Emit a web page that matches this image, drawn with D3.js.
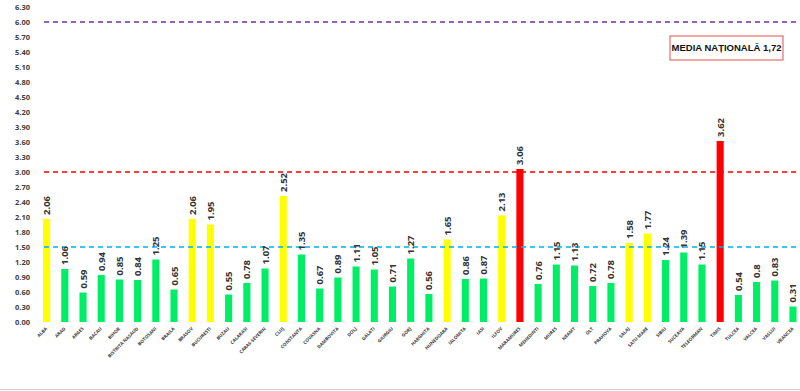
<!DOCTYPE html>
<html><head><meta charset="utf-8">
<script src="https://cdn.jsdelivr.net/npm/d3@7"></script>
<style>body{margin:0;background:#fff}svg{display:block}</style>
</head><body><svg id="c" width="800" height="391"></svg>
<script>
const counties = ["ALBA","ARAD","ARGES","BACAU","BIHOR","BISTRITA NASAUD","BOTOSANI","BRAILA","BRASOV","BUCURESTI","BUZAU","CALARASI","CARAS-SEVERIN","CLUJ","CONSTANTA","COVASNA","DAMBOVITA","DOLJ","GALATI","GIURGIU","GORJ","HARGHITA","HUNEDOARA","IALOMITA","IASI","ILFOV","MARAMURES","MEHEDINTI","MURES","NEAMT","OLT","PRAHOVA","SALAJ","SATU MARE","SIBIU","SUCEAVA","TELEORMAN","TIMIS","TULCEA","VALCEA","VASLUI","VRANCEA"];
const values = [2.06,1.06,0.59,0.94,0.85,0.84,1.25,0.65,2.06,1.95,0.55,0.78,1.07,2.52,1.35,0.67,0.89,1.11,1.05,0.71,1.27,0.56,1.65,0.86,0.87,2.13,3.06,0.76,1.15,1.13,0.72,0.78,1.58,1.77,1.24,1.39,1.15,3.62,0.54,0.8,0.83,0.31];
const valueLabels = ["2.06","1.06","0.59","0.94","0.85","0.84","1.25","0.65","2.06","1.95","0.55","0.78","1.07","2.52","1.35","0.67","0.89","1.11","1.05","0.71","1.27","0.56","1.65","0.86","0.87","2.13","3.06","0.76","1.15","1.13","0.72","0.78","1.58","1.77","1.24","1.39","1.15","3.62","0.54","0.8","0.83","0.31"];
const yTicks = [0,0.3,0.6,0.9,1.2,1.5,1.8,2.1,2.4,2.7,3.0,3.3,3.6,3.9,4.2,4.5,4.8,5.1,5.4,5.7,6.0,6.3];
const refLines = [{v:6.0,c:"#7030a0"},{v:3.0,c:"#ff0000"},{v:1.5,c:"#00b0f0"}];
const legendText = "MEDIA NAȚIONALĂ 1,72";

const svg = d3.select("#c");
const x = d3.scaleBand().domain(counties).range([37.6, 802]).paddingInner(0.61).paddingOuter(0.3);
const y = d3.scaleLinear().domain([0, 6.3]).range([322, 7]);

// y axis labels
svg.append("g").selectAll("text").data(yTicks).join("text")
  .attr("x", 30).attr("y", d => y(d)).attr("dy", "0.35em")
  .attr("text-anchor", "end").attr("font-family", "Open Sans, sans-serif")
  .attr("font-weight", "bold").attr("font-size", 7.5).attr("fill", "#404040")
  .text(d => d.toFixed(2));

function colorOf(v){ return v > 3 ? "#ff0000" : (v >= 1.5 ? "#ffff00" : "#00ee66"); }

// bars
svg.append("g").selectAll("rect").data(counties).join("rect")
  .attr("x", d => x(d)).attr("width", x.bandwidth())
  .attr("y", (d,i) => y(values[i])).attr("height", (d,i) => y(0) - y(values[i]))
  .attr("fill", (d,i) => colorOf(values[i]));

// reference lines
svg.append("g").selectAll("line").data(refLines).join("line")
  .attr("x1", 44).attr("x2", 797).attr("y1", d => y(d.v)).attr("y2", d => y(d.v))
  .attr("stroke", d => d.c).attr("stroke-width", 1.5).attr("stroke-dasharray", "5,4");

// value labels
svg.append("g").selectAll("text").data(counties).join("text")
  .attr("transform", (d,i) => `translate(${x(d) + x.bandwidth()/2 + 3.5},${y(values[i]) - 4}) rotate(-90)`)
  .attr("font-family", "Open Sans, sans-serif").attr("font-weight", "bold")
  .attr("font-size", 9.5).attr("fill", "#333")
  .text((d,i) => valueLabels[i]);

// x labels
svg.append("g").selectAll("text").data(counties).join("text")
  .attr("transform", d => `translate(${x(d) + x.bandwidth()/2 + 1},${329}) rotate(-45)`)
  .attr("text-anchor", "end")
  .attr("font-family", "Open Sans, sans-serif").attr("font-weight", "bold")
  .attr("font-size", 4.6).attr("fill", "#404040")
  .text(d => d);

// legend box
const lg = svg.append("g");
lg.append("rect").attr("x", 670).attr("y", 36).attr("width", 113).attr("height", 24)
  .attr("fill", "#fff").attr("stroke", "#e05050").attr("stroke-width", 1);
lg.append("text").attr("x", 726.5).attr("y", 48).attr("dy", "0.35em").attr("text-anchor", "middle")
  .attr("font-family", "Liberation Sans, Arial, sans-serif").attr("font-weight", "bold")
  .attr("font-size", 9.5).attr("fill", "#111").text(legendText);

// bottom frame line
svg.append("line").attr("x1", 0).attr("x2", 800).attr("y1", 389.5).attr("y2", 389.5)
  .attr("stroke", "#d0d0d0").attr("stroke-width", 1);
</script></body></html>
